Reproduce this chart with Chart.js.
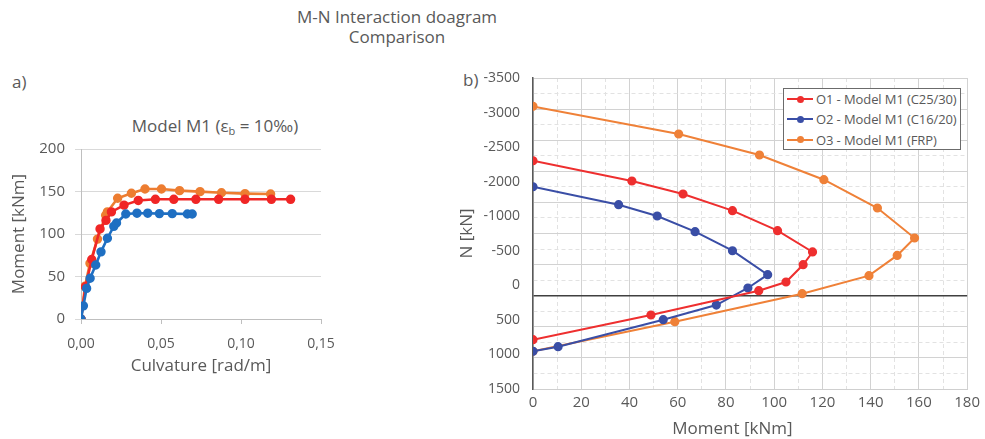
<!DOCTYPE html>
<html>
<head>
<meta charset="utf-8">
<script src="https://cdn.jsdelivr.net/npm/chart.js@4"></script>
<style>
  body { margin: 0; background: #fff; font-family: 'Open Sans', sans-serif; color: #595959; }
  #page { position: relative; width: 985px; height: 439px; overflow: hidden; }
  .txt { position: absolute; white-space: nowrap; }
  #mainTitle { left: 197px; top: 7px; width: 400px; text-align: center; font-size: 17px; line-height: 20px; }
  #tagA { left: 12px; top: 71px; font-size: 17px; line-height: 22px; }
  #tagB { left: 463px; top: 69px; font-size: 17px; line-height: 22px; }
  #leftTitle { left: 65px; top: 114px; width: 300px; text-align: center; font-size: 17px; line-height: 24px; }
  #leftTitle sub { font-size: 11px; vertical-align: -3px; line-height: 0; }
  .box { position: absolute; }
  #leftBox { left: 0; top: 130px; }
  #rightBox { left: 455px; top: 60px; }
  #legend { left: 783px; top: 88px; width: 176px; height: 60px; border: 1.5px solid #6b6b6b; background: #fff; font-size: 13px; letter-spacing: -0.1px; }
  .row { height: 20.3px; line-height: 20.3px; position: relative; white-space: nowrap; }
  .sample { position: absolute; left: 3px; top: 9px; width: 26px; height: 2px; }
  .sample i { position: absolute; left: 9.5px; top: -2.5px; width: 7px; height: 7px; border-radius: 50%; background: inherit; }
  .row span.lbl { position: absolute; left: 32px; white-space: nowrap; }
</style>
</head>
<body>
<div id="page">
  <div class="txt" id="mainTitle">M-N Interaction doagram<br>Comparison</div>
  <div class="txt" id="tagA">a)</div>
  <div class="txt" id="tagB">b)</div>
  <div class="txt" id="leftTitle">Model M1 (ε<sub>b</sub> = 10‰)</div>
  <div class="box" id="leftBox"><canvas id="leftChart" width="350" height="250"></canvas></div>
  <div class="box" id="rightBox"><canvas id="rightChart" width="530" height="379"></canvas></div>
  <div class="box" id="legend">
    <div class="row"><span class="sample" style="background:#ee2f2f"><i></i></span><span class="lbl">O1 - Model M1 (C25/30)</span></div>
    <div class="row"><span class="sample" style="background:#3a4ea6"><i></i></span><span class="lbl">O2 - Model M1 (C16/20)</span></div>
    <div class="row"><span class="sample" style="background:#ef8138"><i></i></span><span class="lbl">O3 - Model M1 (FRP)</span></div>
  </div>
</div>
<script>
// a) moment-curvature, Model M1
const redCurv = [0, 0.0028, 0.0067, 0.0119, 0.0156, 0.019, 0.0269, 0.0358, 0.0465, 0.058, 0.0718, 0.086, 0.1025, 0.119, 0.131];
const redMom = [0, 38, 70, 106, 116, 126, 134, 139.5, 140.8, 140.8, 140.8, 140.8, 140.8, 140.8, 140.8];
const orangeCurv = [0, 0.0025, 0.0056, 0.0103, 0.0154, 0.0165, 0.0229, 0.0315, 0.040, 0.0503, 0.0616, 0.0744, 0.0878, 0.1025, 0.1185];
const orangeMom = [0, 38.5, 65.5, 94, 122, 126, 142, 148, 153, 153, 151, 149.8, 148.5, 147.5, 147];
const blueCurv = [0, 0.0015, 0.0035, 0.0057, 0.0092, 0.0125, 0.0165, 0.0205, 0.0222, 0.028, 0.035, 0.0417, 0.049, 0.057, 0.0665, 0.0695];
const blueMom = [0, 15.5, 36, 48, 63.5, 79, 95, 109, 113, 123.5, 124.5, 124.5, 124, 124, 123.5, 123.5];

// b) M-N interaction
const o1M = [0, 41, 62.2, 82.7, 101.4, 115.9, 112, 104.9, 93.6, 48.9, 0];
const o1N = [-2170, -1844, -1635, -1367, -1045, -703, -498, -220, -80, 310, 707];
const o2M = [0, 35.5, 51.5, 67.2, 82.7, 97.3, 89.1, 76, 54, 10.4, 0];
const o2N = [-1752, -1463, -1281, -1029, -723, -338, -124, 150, 386, 820, 895];
const o3M = [0, 60.4, 93.9, 120.6, 142.8, 158.2, 151, 139.3, 111.6, 58.8, 0];
const o3N = [-3044, -2600, -2262, -1865, -1410, -928, -648, -322, -32, 418, 895];
const nTickLabels = ['-3500', '-3000', '-2500', '-2000', '-1000', '-500', '0', '500', '1000', '1500'];

Chart.defaults.font.family = "'Open Sans', sans-serif";
Chart.defaults.color = '#595959';

const pts = (xs, ys) => xs.map((x, i) => ({ x, y: ys[i] }));

function series(label, xs, ys, color, w, r) {
  return { label, data: pts(xs, ys), borderColor: color, backgroundColor: color, pointBackgroundColor: color,
    pointBorderColor: color, borderWidth: w, pointRadius: r, pointHoverRadius: r, showLine: true, tension: 0 };
}

new Chart(document.getElementById('leftChart'), {
  type: 'scatter',
  data: {
    datasets: [
      series('C16/20', blueCurv, blueMom, '#1f6fc2', 2.6, 3.4),
      series('C25/30', redCurv, redMom, '#f02626', 2.6, 3.4),
      series('FRP', orangeCurv, orangeMom, '#ed7d31', 2.6, 3.4)
    ]
  },
  options: {
    responsive: false, animation: false,
    layout: { padding: { top: 19, right: 29, left: 0, bottom: 0 } },
    plugins: { legend: { display: false }, tooltip: { enabled: false } },
    scales: {
      x: {
        type: 'linear', min: 0, max: 0.15,
        ticks: { stepSize: 0.05, font: { size: 14 }, padding: 12, callback: v => v.toFixed(2).replace('.', ',') },
        grid: { drawOnChartArea: false, drawTicks: true, tickLength: 5, color: '#bfbfbf' },
        border: { color: '#bfbfbf' },
        title: { display: true, text: 'Culvature [rad/m]', font: { size: 17 }, padding: { top: 0, bottom: 4 } },
        afterFit: s => { s.height = 61; }
      },
      y: {
        min: 0, max: 200,
        ticks: { stepSize: 50, font: { size: 15 }, padding: 10 },
        grid: { color: '#d9d9d9', tickLength: 6 },
        border: { color: '#bfbfbf' },
        title: { display: true, text: 'Moment [kNm]', font: { size: 17 }, padding: { top: 9, bottom: 0 } },
        afterFit: s => { s.width = 81; }
      }
    }
  }
});

const minorDash = ctx => (ctx.tick && ctx.tick.value % (ctx.scale.axis === 'x' ? 20 : 500) !== 0) ? [4, 3] : [];

new Chart(document.getElementById('rightChart'), {
  type: 'scatter',
  data: {
    datasets: [
      series('O1 - Model M1 (C25/30)', o1M, o1N, '#ee2f2f', 2, 3.6),
      series('O2 - Model M1 (C16/20)', o2M, o2N, '#3a4ea6', 2, 3.6),
      series('O3 - Model M1 (FRP)', o3M, o3N, '#ef8138', 2, 3.6)
    ].map(d => Object.assign(d, { yAxisID: 'y' }))
  },
  options: {
    responsive: false, animation: false,
    layout: { padding: { top: 18, right: 13, left: 0, bottom: 0 } },
    plugins: { legend: { display: false }, tooltip: { enabled: false } },
    scales: {
      x: {
        type: 'linear', min: 0, max: 180,
        ticks: { stepSize: 10, autoSkip: false, maxRotation: 0, font: { size: 15 }, padding: 5,
          callback: v => (v % 20 === 0 ? String(v) : '') },
        grid: { drawTicks: false, color: c => (c.tick && c.tick.value % 20 !== 0 ? '#e2e2e2' : '#d2d2d2') },
        border: { color: '#cfcfcf', dash: minorDash },
        title: { display: true, text: 'Moment [kNm]\u00a0\u00a0\u00a0\u00a0\u00a0\u00a0\u00a0\u00a0', font: { size: 17 }, padding: { top: 0, bottom: 0 } },
        afterFit: s => { s.height = 50; }
      },
      y: {
        type: 'linear', position: 'left', weight: 0, min: -3500, max: 1500, reverse: true,
        ticks: { display: false, stepSize: 250 },
        grid: { drawTicks: false,
          color: c => (c.tick && c.tick.value === 0 ? '#404040' : (c.tick && c.tick.value % 500 !== 0 ? '#e2e2e2' : '#d2d2d2')),
          lineWidth: c => (c.tick && c.tick.value === 0 ? 1.5 : 1) },
        border: { color: '#595959', width: 1.5, dash: minorDash },
        afterFit: s => { s.width = 0; }
      },
      yl: {
        type: 'linear', axis: 'y', position: 'left', weight: 1, min: 0, max: 9, reverse: true,
        ticks: { stepSize: 1, font: { size: 14 }, padding: 5, callback: v => nTickLabels[v] },
        grid: { display: false },
        border: { display: false },
        title: { display: true, text: 'N [kN]', font: { size: 17 }, padding: { top: 2, bottom: 0 } },
        afterFit: s => { s.width = 78; }
      }
    }
  }
});
</script>
</body>
</html>
